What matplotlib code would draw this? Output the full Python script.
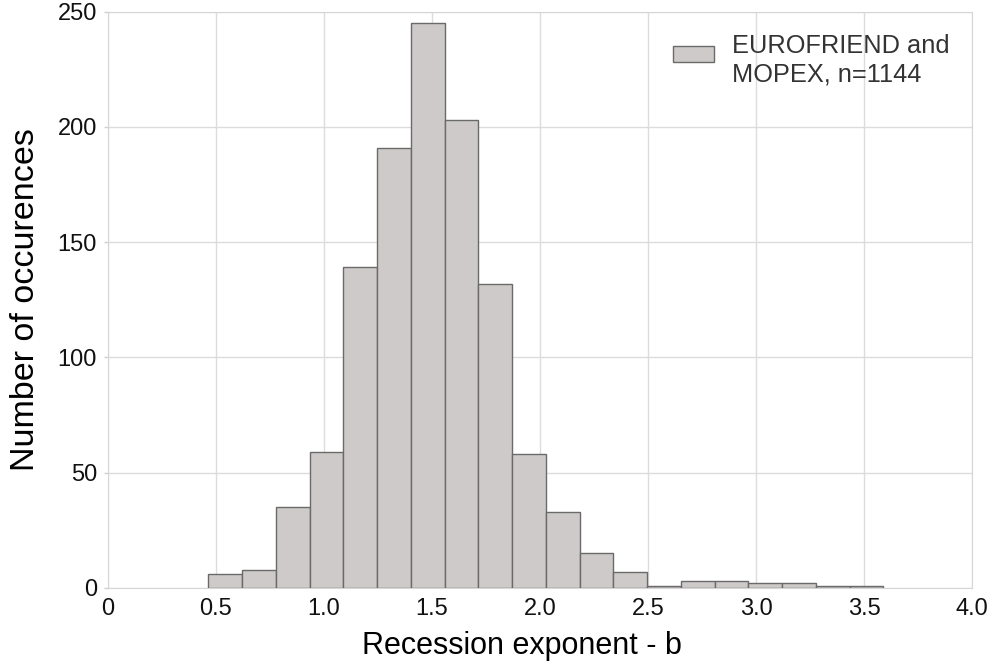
import numpy as np
import matplotlib
matplotlib.use('Agg')
from matplotlib import pyplot as plt
from matplotlib.patches import Rectangle
from matplotlib.legend_handler import HandlerPatch

# histogram of recession exponent b, 20 bins
bin_start = 0.464
bin_end = 3.59
counts = [6, 8, 35, 59, 139, 191, 245, 203, 132, 58,
          33, 15, 7, 1, 3, 3, 2, 2, 1, 1]
label = 'EUROFRIEND and\nMOPEX, n=1144'
xticks = [0, 0.5, 1.0, 1.5, 2.0, 2.5, 3.0, 3.5, 4.0]
xticklabels = ['0', '0.5', '1.0', '1.5', '2.0', '2.5', '3.0', '3.5', '4.0']
yticks = [0, 50, 100, 150, 200, 250]

plt.rcParams['font.family'] = ['Liberation Sans', 'DejaVu Sans']

edges = np.linspace(bin_start, bin_end, len(counts) + 1)

fig = plt.figure(figsize=(9.92, 6.68), dpi=100)
ax = fig.add_axes([108 / 992, 80 / 668, 864 / 992, 576.5 / 668])

bars = ax.bar(edges[:-1], counts, width=np.diff(edges), align='edge',
              color='#cecaca', edgecolor='#6a6a6a', linewidth=1.0,
              label=label, zorder=3)

ax.set_xlim(0, 4.0)
ax.set_ylim(0, 250)
ax.set_xticks(xticks)
ax.set_xticklabels(xticklabels)
ax.set_yticks(yticks)
ax.tick_params(axis='x', length=0, labelsize=17, pad=7, colors='#111111')
ax.tick_params(axis='y', length=3, width=1, color='#d0d0d0',
               labelsize=17, labelcolor='#111111', pad=5)
ax.grid(True, color='#dcdcdc', linewidth=1.0, zorder=0)
for s in ax.spines.values():
    s.set_color('#d6d6d6')

ax.set_xlabel('Recession exponent - b', fontsize=22, labelpad=8)
ax.xaxis.label.set_x(0.479)
ax.set_ylabel('Number of occurences', fontsize=24.5, labelpad=12)


# legend box sits a bit above the middle of the two text lines
def raised_box(legend, orig_handle, xdescent, ydescent, width, height, fontsize):
    return Rectangle((-xdescent, -ydescent + 5), width, height)


def first_bar_style(handle, orig):
    handle.update_from(orig.patches[0])


leg = ax.legend(loc='upper right', frameon=False, fontsize=18.3,
                handlelength=1.64, handleheight=0.56, handletextpad=0.68,
                labelspacing=0.1, borderaxespad=0.5,
                handler_map={bars: HandlerPatch(patch_func=raised_box,
                                                update_func=first_bar_style)})
for t in leg.get_texts():
    t.set_color('#333333')

fig.savefig('out.png', dpi=100)
